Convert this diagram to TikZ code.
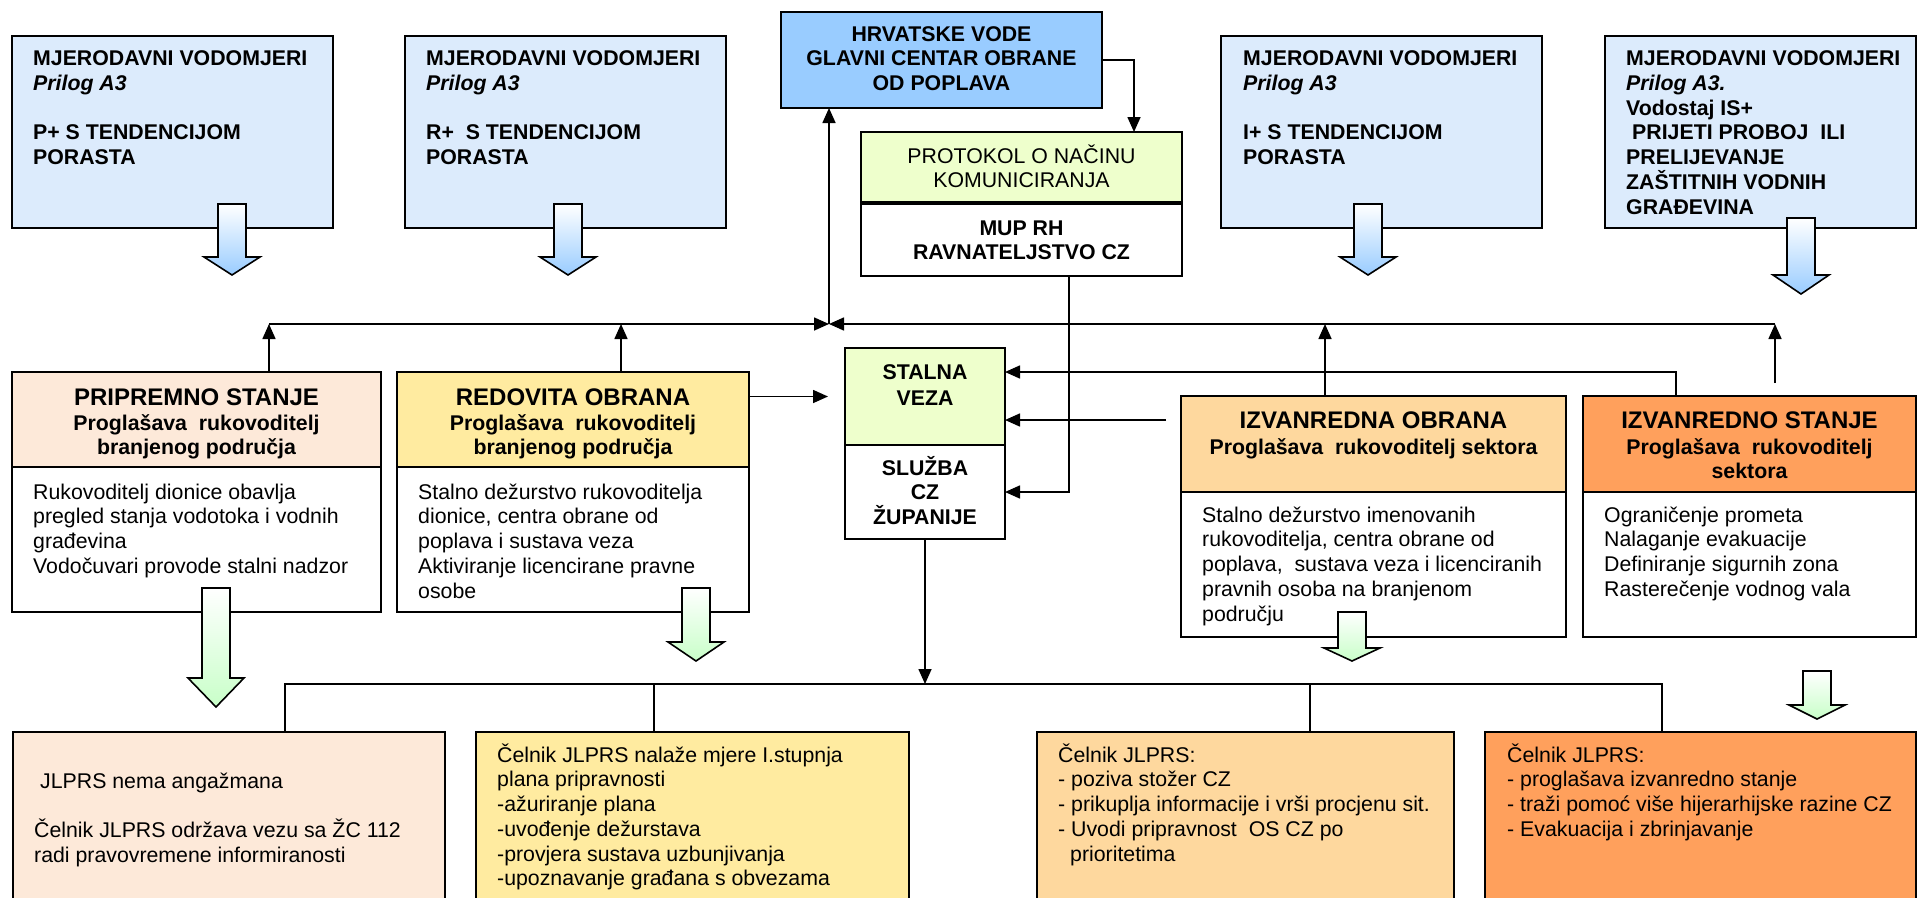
\documentclass[tikz,border=0pt]{standalone}
\usepackage{fontspec}
\setmainfont{Liberation Sans}
\usetikzlibrary{arrows.meta,calc}
\definecolor{cBlueL}{HTML}{DCEBFC}
\definecolor{cBlue}{HTML}{99CCFF}
\definecolor{cLime}{HTML}{EEFFCC}
\definecolor{cPeach}{HTML}{FDE9D9}
\definecolor{cYel}{HTML}{FFEBA0}
\definecolor{cOrL}{HTML}{FED89E}
\definecolor{cOr}{HTML}{FFA05C}
\definecolor{cGreen}{HTML}{C8FFC8}
\newcommand\tstrut{\rule{0pt}{22pt}}
\newcommand\fR{\fontsize{21.3}{24.7}\selectfont}
\newcommand\fT{\fontsize{24}{26}\selectfont\bfseries}
\newcommand\barrow[5]{\shade[top color=white,bottom color=#5,draw=black,line width=1.6pt]
  (#1-14,#2) -- (#1+14,#2) -- (#1+14,#3) -- (#1+28,#3) -- (#1,#4) -- (#1-28,#3) -- (#1-14,#3) -- cycle;}
\begin{document}
\begin{tikzpicture}[x=1pt,y=-1pt,
  box/.style={draw=black,line width=2pt,anchor=north west,inner sep=0pt,outer sep=0pt},
  txt/.style={anchor=north west,inner sep=0pt,align=left,font=\fR},
  ctxt/.style={anchor=north,inner sep=0pt,align=center,font=\fR\bfseries},
  ttl/.style={anchor=base,inner sep=0pt,font=\fT},
  conn/.style={line width=1.6pt,-{Triangle[length=15pt,width=13pt]}},
  busline/.style={line width=1.3pt}]
\useasboundingbox[fill=white] (0,0) rectangle (1919,897);

% ---------- top row ----------
\node[box,fill=cBlueL,minimum width=321pt,minimum height=192pt] (m1) at (12,36) {};
\node[box,fill=cBlueL,minimum width=321pt,minimum height=192pt] (m2) at (405,36) {};
\node[box,fill=cBlueL,minimum width=321pt,minimum height=192pt] (m3) at (1221,36) {};
\node[box,fill=cBlueL,minimum width=311pt,minimum height=192pt] (m4) at (1605,36) {};
\node[box,fill=cBlue,minimum width=321pt,minimum height=96pt] (hv) at (781,12) {};
\node[box,fill=cLime,minimum width=321pt,minimum height=70pt] (prot) at (861,132) {};
\node[box,fill=white,minimum width=321pt,minimum height=72pt] (mup) at (861,204) {};

% ---------- middle row ----------
\node[box,fill=cPeach,minimum width=369pt,minimum height=95pt] (psh) at (12,372) {};
\node[box,fill=white,minimum width=369pt,minimum height=145pt] (psb) at (12,467) {};
\node[box,fill=cYel,minimum width=352pt,minimum height=95pt] (roh) at (397,372) {};
\node[box,fill=white,minimum width=352pt,minimum height=145pt] (rob) at (397,467) {};
\node[box,fill=cLime,minimum width=160pt,minimum height=97pt] (sv) at (845,348) {};
\node[box,fill=white,minimum width=160pt,minimum height=94pt] (sl) at (845,445) {};
\node[box,fill=cOrL,minimum width=385pt,minimum height=96pt] (ioh) at (1181,396) {};
\node[box,fill=white,minimum width=385pt,minimum height=145pt] (iob) at (1181,492) {};
\node[box,fill=cOr,minimum width=333pt,minimum height=96pt] (izsh) at (1583,396) {};
\node[box,fill=white,minimum width=333pt,minimum height=145pt] (izsb) at (1583,492) {};

% ---------- bottom row ----------
\node[box,fill=cPeach,minimum width=432pt,minimum height=200pt] (bb1) at (13,732) {};
\node[box,fill=cYel,minimum width=433pt,minimum height=200pt] (bb2) at (476,732) {};
\node[box,fill=cOrL,minimum width=417pt,minimum height=200pt] (bb3) at (1037,732) {};
\node[box,fill=cOr,minimum width=431pt,minimum height=200pt] (bb4) at (1485,732) {};

% ---------- block arrows ----------
\barrow{232}{204}{257}{275}{cBlue}
\barrow{568}{204}{257}{275}{cBlue}
\barrow{1368}{204}{257}{275}{cBlue}
\barrow{1801}{218}{275}{294}{cBlue}
\barrow{216}{588}{678}{707}{cGreen}
\barrow{696}{588}{642}{661}{cGreen}
\barrow{1352}{612}{648}{661}{cGreen}
\barrow{1817}{671}{705}{719}{cGreen}

% ---------- texts ----------
\node[txt,font=\fR\bfseries] (m1t) at (33,43.6) {\tstrut MJERODAVNI VODOMJERI\\\textit{Prilog A3}\\[24.7pt]P+ S TENDENCIJOM\\PORASTA};
\node[txt,font=\fR\bfseries] (m2t) at (426,43.6) {\tstrut MJERODAVNI VODOMJERI\\\textit{Prilog A3}\\[24.7pt]R+\ \ S TENDENCIJOM\\PORASTA};
\node[txt,font=\fR\bfseries] (m3t) at (1243,43.6) {\tstrut MJERODAVNI VODOMJERI\\\textit{Prilog A3}\\[24.7pt]I+ S TENDENCIJOM\\PORASTA};
\node[txt,font=\fR\bfseries] (m4t) at (1626,43.6) {\tstrut MJERODAVNI VODOMJERI\\\textit{Prilog A3.}\\Vodostaj IS+\\\hspace*{6pt}PRIJETI PROBOJ\ \ ILI\\PRELIJEVANJE\\ZAŠTITNIH VODNIH\\GRAĐEVINA};
\node[ctxt] (hvt) at (941.5,19) {\tstrut HRVATSKE VODE\\GLAVNI CENTAR OBRANE\\OD POPLAVA};
\node[ctxt,font=\fR] (prott) at (1021.5,141) {\tstrut PROTOKOL O NAČINU\\KOMUNICIRANJA};
\node[ctxt] (mupt) at (1021.5,213) {\tstrut MUP RH\\RAVNATELJSTVO CZ};
\node[ctxt] (svt) at (925,357) {\tstrut STALNA\\[1.3pt]VEZA};
\node[ctxt] (slt) at (925,453) {\tstrut SLUŽBA\\CZ\\ŽUPANIJE};

\node[ttl] (pst) at (196.5,405) {PRIPREMNO STANJE};
\node[ctxt] (pss) at (196.5,408) {\tstrut Proglašava\ \ rukovoditelj\\branjenog područja};
\node[txt] (psx) at (33,477) {\tstrut Rukovoditelj dionice obavlja\\pregled stanja vodotoka i vodnih\\građevina\\Vodočuvari provode stalni nadzor};
\node[ttl] (rot) at (573,405) {REDOVITA OBRANA};
\node[ctxt] (ros) at (573,408) {\tstrut Proglašava\ \ rukovoditelj\\branjenog područja};
\node[txt] (rox) at (418,477) {\tstrut Stalno dežurstvo rukovoditelja\\dionice, centra obrane od\\poplava i sustava veza\\Aktiviranje licencirane pravne\\osobe};
\node[ttl] (iot) at (1373.5,428.6) {IZVANREDNA OBRANA};
\node[ctxt] (ios) at (1373.5,432) {\tstrut Proglašava\ \ rukovoditelj sektora};
\node[txt] (iox) at (1202,500) {\tstrut Stalno dežurstvo imenovanih\\rukovoditelja, centra obrane od\\poplava,\ \ sustava veza i licenciranih\\pravnih osoba na branjenom\\području};
\node[ttl] (izst) at (1749.5,428.6) {IZVANREDNO STANJE};
\node[ctxt] (izss) at (1749.5,432) {\tstrut Proglašava\ \ rukovoditelj\\sektora};
\node[txt] (izsx) at (1604,500) {\tstrut Ograničenje prometa\\Nalaganje evakuacije\\Definiranje sigurnih zona\\Rasterečenje vodnog vala};

\node[txt] (b1x) at (34,766) {\tstrut\hspace*{6pt}JLPRS nema angažmana\\[24.7pt]Čelnik JLPRS održava vezu sa ŽC 112\\radi pravovremene informiranosti};
\node[txt] (b2x) at (497,740) {\tstrut Čelnik JLPRS nalaže mjere I.stupnja\\plana pripravnosti\\-ažuriranje plana\\-uvođenje dežurstava\\-provjera sustava uzbunjivanja\\-upoznavanje građana s obvezama};
\node[txt] (b3x) at (1058,740) {\tstrut Čelnik JLPRS:\\- poziva stožer CZ\\- prikuplja informacije i vrši procjenu sit.\\- Uvodi pripravnost\ \ OS CZ po\\\hspace*{12pt}prioritetima};
\node[txt] (b4x) at (1507,740) {\tstrut Čelnik JLPRS:\\- proglašava izvanredno stanje\\- traži pomoć više hijerarhijske razine CZ\\- Evakuacija i zbrinjavanje};

% ---------- connectors ----------
\coordinate (hub) at (829,324);
\coordinate (busL) at (269,324);
\coordinate (busR) at (1775,324);
\coordinate (izsup) at (1775,383);
\coordinate (busC) at (925,684);

\draw[conn] (psh.north -| busL) -- (busL);
\draw[conn] (roh.north -| 621,0) -- (621,324);
\draw[conn] (ioh.north -| 1325,0) -- (1325,324);
\draw[conn] (izsup) -- (busR);
\draw[conn] (busL) -- (hub);
\draw[conn] (busR) -- (hub);
\draw[conn] (hub) -- (hv.south -| hub);
\draw[conn] (hv.east) -| (prot.north -| 1134,0);
\draw[conn,shorten >=17pt] (roh.east |- sv.west) -- (sv.west);
\draw[conn] (izsh.north -| 1676,0) |- (sv.east |- 0,372);
\draw[conn,shorten <=15pt] (ioh.west |- 0,420) -- (sv.east |- 0,420);
\draw[conn] (mup.south -| 1069,0) |- (sl.east);
\draw[conn] (sl.south) -- (busC);

\draw[busline] (bb1.north -| 285,0) -- (285,684) -- (1662,684) -- (bb4.north -| 1662,0);
\draw[busline] (654,684) -- (bb2.north -| 654,0);
\draw[busline] (1310,684) -- (bb3.north -| 1310,0);
\end{tikzpicture}
\end{document}
